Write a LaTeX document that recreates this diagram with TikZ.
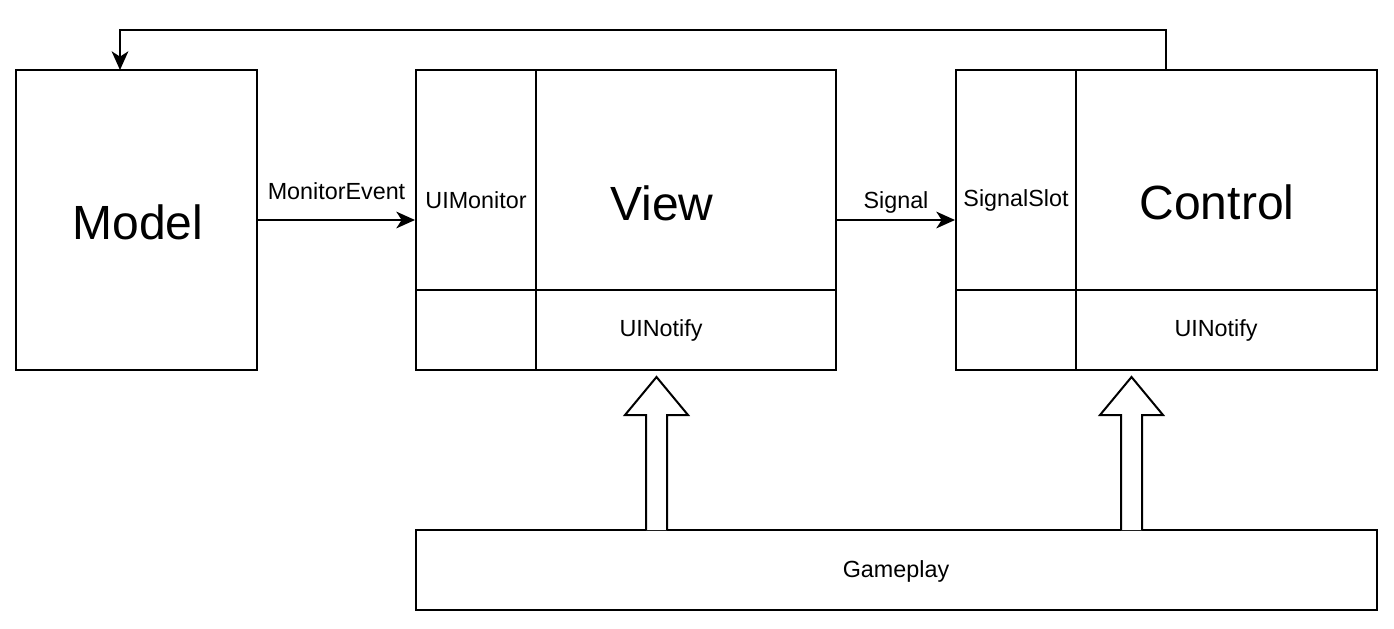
\documentclass[tikz,border=0pt]{standalone}
\usepackage{fontspec}
\setmainfont{Liberation Sans}
\usetikzlibrary{arrows.meta,fit}
\begin{document}
\begin{tikzpicture}[x=0.75pt,y=-0.75pt,
  box/.style={draw=black, line width=1.5pt, inner sep=0pt, fill=white},
  cell/.style={draw=black, line width=1.5pt},
  arr/.style={draw=black, line width=1.5pt, -{Stealth[length=14pt,width=12.5pt,inset=4pt]}},
  big/.style={font=\fontsize{36}{40}\selectfont, inner sep=0pt},
  small/.style={font=\fontsize{17.5}{20}\selectfont, inner sep=0pt},
  blockarrow/.style={draw=black, line width=1.5pt, fill=white, line join=miter}]
\useasboundingbox (0,0) rectangle (1394,628);

% boxes
\node[box, fit={(16,70)(257,370)}] (model) {};
\node[box, fit={(416,70)(836,370)}] (view) {};
\node[box, fit={(956,70)(1377,370)}] (ctrl) {};
\node[box, fit={(416,530)(1377,610)}] (game) {};

% cell dividers
\draw[cell] (536,70) -- (536,370);
\draw[cell] (416,290) -- (836,290);
\draw[cell] (1076,70) -- (1076,370);
\draw[cell] (956,290) -- (1377,290);

% labels
\node[big] (modeltxt) at (138,222) {Model};
\node[big] (viewtxt) at (662,203) {View};
\node[big] (ctrltxt) at (1217,202) {Control};
\node[small] (uimon) at (476,200) {UIMonitor};
\node[small] (sigslot) at (1016,200) {SignalSlot};
\node[small] (vnot) at (661,330) {UINotify};
\node[small] (cnot) at (1216,330) {UINotify};
\node[small] (gametxt) at (896,571) {Gameplay};

% connectors
\draw[arr] (model) -- (view) node[small, pos=0.5, yshift=21.75pt] (lmon) {MonitorEvent};
\draw[arr] (view) -- (ctrl) node[small, pos=0.5, yshift=13.5pt] (lsig) {Signal};
\coordinate (ctop) at (1166,70);
\coordinate (mtop) at (120,70);
\coordinate (bend) at (120,30);
\draw[arr, line join=miter] (ctop) |- (bend) -- (mtop);

% block arrows
\draw[blockarrow] (646,530) -- (646,415) -- (625,415) -- (656.5,377) -- (688,415) -- (667,415) -- (667,530);
\draw[blockarrow] (1121,530) -- (1121,415) -- (1100,415) -- (1131.5,377) -- (1163,415) -- (1142,415) -- (1142,530);
\end{tikzpicture}
\end{document}
